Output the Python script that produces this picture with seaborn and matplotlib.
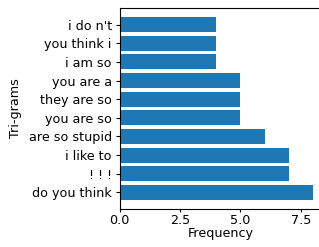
import matplotlib
matplotlib.use("Agg")
import matplotlib.pyplot as plt
import seaborn as sns
import pandas as pd

# tri-grams, top to bottom as shown
trigrams = ["i do n't", "you think i", "i am so", "you are a", "they are so",
            "you are so", "are so stupid", "i like to", "! ! !", "do you think"]
frequency = [4, 4, 4, 5, 5, 5, 6, 7, 7, 8]

df = pd.DataFrame({"Tri-grams": trigrams, "Frequency": frequency})

fig = plt.figure(figsize=(3.19, 2.47), dpi=100)
ax = fig.add_axes([119.5 / 319, 38 / 247, 203 / 319, 201 / 247])

sns.barplot(data=df, x="Frequency", y="Tri-grams", orient="h",
            color="#1f77b4", saturation=1, width=0.8, ax=ax)

ax.set_xlim(0, 8.4)
ax.set_ylim(9.89, -0.89)
ax.set_xticks([0, 2.5, 5.0, 7.5])
ax.set_xlabel("Frequency", fontsize=9.2, labelpad=0)
ax.set_ylabel("Tri-grams", fontsize=9.2, labelpad=5)
ax.tick_params(labelsize=9.2)
ax.tick_params(axis="x", length=2.5, pad=0.8)
ax.tick_params(axis="y", length=3, pad=2.5)

fig.savefig("out.png", dpi=100)
